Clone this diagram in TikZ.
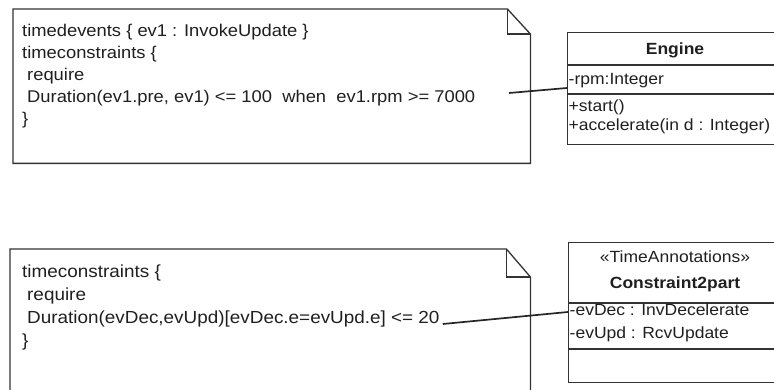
\documentclass[tikz,border=0pt]{standalone}
\usepackage{fontspec}
\setmainfont[FakeStretch=1.08]{Liberation Sans}
\begin{document}
\begin{tikzpicture}[x=1pt,y=-1pt,
  outline/.style={draw=black!80, line width=1.3pt},
  boxline/.style={draw=black!80, line width=1.2pt},
  notetext/.style={anchor=base west, inner sep=0pt, text=black!88, font=\fontsize{17}{20}\selectfont},
  notetextb/.style={anchor=base west, inner sep=0pt, text=black!88, font=\fontsize{17.5}{20}\selectfont},
  umltext/.style={anchor=base west, inner sep=0pt, text=black!88, font=\fontsize{16.2}{19}\selectfont},
  umltitle/.style={anchor=base, inner sep=0pt, text=black!88, font=\fontsize{16.2}{19}\selectfont},
  link/.style={draw=black!85, line width=1.7pt}]
\useasboundingbox (0,0) rectangle (774,390);
\clip (0,0) rectangle (774,390);

% ---- note 1 ----
\node[inner sep=0pt, minimum width=517pt, minimum height=154pt, anchor=north west] (note1) at (13,9) {};
\draw[outline] (note1.south west) -- (note1.north west) -- ([xshift=-23pt]note1.north east)
  -- ([yshift=-25pt]note1.north east) -- (note1.south east) -- cycle;
\draw[outline] ([xshift=-23pt]note1.north east) -- ([xshift=-23pt,yshift=-25pt]note1.north east)
  -- ([yshift=-25pt]note1.north east);
\node[notetext] (n1a) at (22,36.7) {timedevents \{ ev1 : InvokeUpdate \}};
\node[notetext] (n1b) at (22,58.7) {timeconstraints \{};
\node[notetext] (n1c) at (27,80.7) {require};
\node[notetext] (n1d) at (27,102.7) {Duration(ev1.pre, ev1) <= 100\ \ when\ \ ev1.rpm >= 7000};
\node[notetext] (n1e) at (22,124.7) {\}};

% ---- note 2 ----
\node[inner sep=0pt, minimum width=520pt, minimum height=171pt, anchor=north west] (note2) at (10,249) {};
\draw[outline] (note2.south west) -- (note2.north west) -- ([xshift=-24pt]note2.north east)
  -- ([yshift=-28pt]note2.north east) -- (note2.south east);
\draw[outline] ([xshift=-24pt]note2.north east) -- ([xshift=-24pt,yshift=-28pt]note2.north east)
  -- ([yshift=-28pt]note2.north east);
\node[notetextb] (n2a) at (22,277) {timeconstraints \{};
\node[notetextb] (n2b) at (27,300) {require};
\node[notetextb] (n2c) at (27,323) {Duration(evDec,evUpd)[evDec.e=evUpd.e] <= 20};
\node[notetextb] (n2d) at (22,346) {\}};

% ---- class Engine ----
\node[boxline, inner sep=0pt, minimum width=216pt, minimum height=112pt, anchor=north west] (engine) at (567,32) {};
\draw[boxline] ([yshift=-33pt]engine.north west) -- ([yshift=-33pt]engine.north east);
\draw[boxline] ([yshift=-62pt]engine.north west) -- ([yshift=-62pt]engine.north east);
\node[umltitle, font=\fontsize{16.2}{19}\selectfont\bfseries] (engt) at (675,55) {Engine};
\node[umltext] (enga) at (568.5,85) {-rpm:Integer};
\node[umltext] (engb) at (568.5,112) {+start()};
\node[umltext] (engc) at (568.5,131) {+accelerate(in d : Integer)};

% ---- class Constraint2part ----
\node[boxline, inner sep=0pt, minimum width=214pt, minimum height=140pt, anchor=north west] (tc) at (568,242) {};
\draw[boxline] ([yshift=-61pt]tc.north west) -- ([yshift=-61pt]tc.north east);
\draw[boxline] ([yshift=-107pt]tc.north west) -- ([yshift=-107pt]tc.north east);
\node[umltitle] (tcs) at (675,262) {«TimeAnnotations»};
\node[umltitle, font=\fontsize{16.2}{19}\selectfont\bfseries] (tct) at (675,288) {Constraint2part};
\node[umltext] (tca) at (569.5,315) {-evDec : InvDecelerate};
\node[umltext] (tcb) at (569.5,338) {-evUpd : RcvUpdate};

% ---- connectors ----
\coordinate (c1) at (509,93);
\draw[link] (c1) -- ([yshift=-56pt]engine.north west);
\coordinate (c2) at ([xshift=3pt,yshift=-1pt]n2c.base east);
\draw[link] (c2) -- ([yshift=-70pt]tc.north west);
\end{tikzpicture}
\end{document}
